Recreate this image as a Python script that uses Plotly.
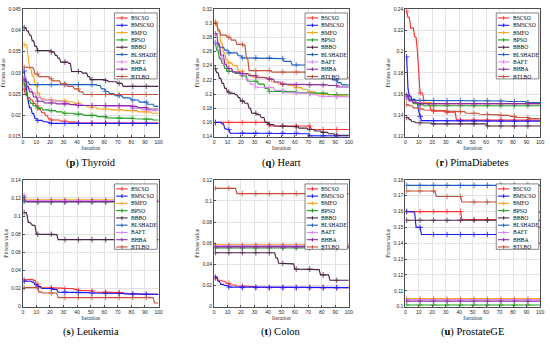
import plotly.graph_objects as go

# ---------------- data ----------------
NAMES = ["BSCSO", "BMSCSO", "BMFO", "BPSO", "BBBO", "BLSHADE", "BAFT", "BHBA", "BTLBO"]
COLORS = ["#FF3030", "#1A1AFF", "#FFA31A", "#1E9E1E", "#4A2545", "#1F5FC0", "#D98CF0", "#8E2C9E", "#C4513A"]
ITER = list(range(1, 101))
X_TICKS = [0, 10, 20, 30, 40, 50, 60, 70, 80, 90, 100]

# convergence curves: (iteration, best fitness) at each visible change
thy_bscso = [(1, 0.0262), (2, 0.0248), (4, 0.0241), (6, 0.0236), (8, 0.0228), (10, 0.0222), (12, 0.0214), (14, 0.0206), (17, 0.0199), (19, 0.0192), (21, 0.0189), (28, 0.0186), (34, 0.0184), (40, 0.0182)]
thy_bmscso = [(1, 0.0304), (2, 0.0275), (3, 0.0252), (4, 0.0232), (5, 0.0218), (7, 0.0204), (9, 0.0192), (11, 0.0188), (15, 0.0185), (19, 0.0183), (21, 0.0181)]
thy_bmfo = [(1, 0.0366), (3, 0.0362), (4, 0.0335), (5, 0.0310), (7, 0.0292), (9, 0.0272), (11, 0.0252), (13, 0.0240), (16, 0.0236), (25, 0.0234), (33, 0.0232), (38, 0.0228), (43, 0.0223), (48, 0.0219), (55, 0.0215), (65, 0.0213), (75, 0.0211), (85, 0.0208), (95, 0.0205)]
thy_bpso = [(1, 0.0275), (2, 0.0262), (3, 0.0246), (4, 0.0235), (6, 0.0228), (8, 0.0222), (11, 0.0217), (15, 0.0213), (20, 0.0211), (25, 0.0208), (30, 0.0205), (38, 0.0203), (45, 0.0200), (55, 0.0197), (62, 0.0194), (72, 0.0193), (82, 0.0192), (90, 0.0191), (96, 0.0189)]
thy_bbbo = [(1, 0.0406), (3, 0.0398), (5, 0.0388), (7, 0.0375), (9, 0.0362), (11, 0.0352), (21, 0.0349), (24, 0.0341), (26, 0.0334), (28, 0.0325), (34, 0.0322), (36, 0.0303), (44, 0.0299), (48, 0.0291), (50, 0.0284), (61, 0.0282), (63, 0.0279), (70, 0.0275), (74, 0.0268)]
thy_blshade = [(1, 0.0285), (3, 0.0278), (5, 0.0272), (55, 0.0270), (58, 0.0262), (61, 0.0256), (64, 0.0251), (68, 0.0246), (74, 0.0241), (80, 0.0236), (86, 0.0231), (92, 0.0226), (97, 0.0221)]
thy_baft = [(1, 0.0290), (2, 0.0275), (4, 0.0262), (7, 0.0252), (10, 0.0242), (14, 0.0236), (22, 0.0233), (30, 0.0229), (35, 0.0225), (45, 0.0223), (60, 0.0221), (80, 0.0217), (88, 0.0213), (95, 0.0211)]
thy_bhba = [(1, 0.0283), (3, 0.0268), (5, 0.0255), (8, 0.0243), (11, 0.0233), (16, 0.0229), (25, 0.0227), (35, 0.0225), (40, 0.0223), (80, 0.0221), (85, 0.0218), (92, 0.0215)]
thy_btlbo = [(1, 0.0313), (8, 0.0310), (9, 0.0297), (12, 0.0291), (20, 0.0286), (22, 0.0281), (28, 0.0274), (33, 0.0268), (38, 0.0262), (42, 0.0255), (45, 0.0249)]
THY_TICKS = [0.015, 0.02, 0.025, 0.03, 0.035, 0.04, 0.045]
THY_LABELS = ["0.015", "0.02", "0.025", "0.03", "0.035", "0.04", "0.045"]

hrt_bscso = [(1, 0.160), (40, 0.157), (42, 0.155), (72, 0.152), (73, 0.150)]
hrt_bmscso = [(1, 0.160), (6, 0.158), (8, 0.151), (11, 0.150), (12, 0.145), (70, 0.144), (71, 0.141)]
hrt_bmfo = [(1, 0.302), (2, 0.298), (3, 0.288), (5, 0.272), (7, 0.258), (9, 0.248), (11, 0.244), (14, 0.240), (18, 0.232), (22, 0.228), (28, 0.224), (38, 0.222), (43, 0.217), (48, 0.214), (55, 0.212), (60, 0.209), (66, 0.206), (70, 0.203), (76, 0.200), (82, 0.199), (90, 0.198), (96, 0.197)]
hrt_bpso = [(1, 0.272), (2, 0.262), (4, 0.250), (6, 0.243), (8, 0.236), (10, 0.232), (16, 0.229), (20, 0.226), (25, 0.218), (33, 0.214), (38, 0.208), (41, 0.204), (58, 0.203), (62, 0.202), (70, 0.201), (85, 0.199)]
hrt_bbbo = [(1, 0.236), (2, 0.230), (4, 0.222), (6, 0.215), (8, 0.208), (10, 0.203), (12, 0.201), (16, 0.199), (18, 0.195), (20, 0.190), (23, 0.187), (26, 0.180), (28, 0.173), (32, 0.171), (35, 0.167), (38, 0.160), (41, 0.157), (45, 0.155), (60, 0.154), (63, 0.152), (70, 0.150), (75, 0.148), (80, 0.146), (85, 0.144), (90, 0.142)]
hrt_blshade = [(1, 0.272), (4, 0.266), (8, 0.262), (11, 0.258), (18, 0.254), (21, 0.251), (50, 0.250), (52, 0.246), (58, 0.241), (68, 0.241), (70, 0.238), (75, 0.232), (82, 0.226), (88, 0.220), (92, 0.216), (95, 0.213)]
hrt_baft = [(1, 0.273), (3, 0.262), (5, 0.252), (7, 0.242), (10, 0.236), (14, 0.231), (20, 0.227), (24, 0.220), (27, 0.214), (31, 0.210), (38, 0.209), (45, 0.205), (52, 0.202), (62, 0.201), (72, 0.199), (78, 0.197), (90, 0.196)]
hrt_bhba = [(1, 0.285), (3, 0.270), (5, 0.255), (8, 0.242), (10, 0.236), (14, 0.231), (20, 0.229), (26, 0.226), (32, 0.223), (40, 0.221), (45, 0.217), (50, 0.214), (60, 0.213), (85, 0.212), (92, 0.210)]
hrt_btlbo = [(1, 0.300), (3, 0.290), (5, 0.283), (10, 0.280), (13, 0.276), (17, 0.270), (22, 0.268), (24, 0.250), (26, 0.233), (41, 0.233), (43, 0.231), (95, 0.231), (97, 0.223)]
HRT_TICKS = [0.14, 0.16, 0.18, 0.2, 0.22, 0.24, 0.26, 0.28, 0.3, 0.32]
HRT_LABELS = ["0.14", "0.16", "0.18", "0.2", "0.22", "0.24", "0.26", "0.28", "0.3", "0.32"]

pim_bscso = [(1, 0.238), (2, 0.232), (4, 0.222), (6, 0.222), (7, 0.214), (8, 0.213), (9, 0.200), (10, 0.180), (11, 0.161), (13, 0.160), (14, 0.152), (17, 0.150), (19, 0.145), (21, 0.144), (30, 0.143), (38, 0.1355)]
pim_bmscso = [(1, 0.195), (2, 0.165), (3, 0.158), (5, 0.155), (8, 0.152), (10, 0.144), (11, 0.139), (12, 0.135), (40, 0.1345)]
pim_bmfo = [(1, 0.155), (4, 0.153), (8, 0.152), (20, 0.151)]
pim_bpso = [(1, 0.157), (3, 0.153), (6, 0.151), (10, 0.150), (14, 0.149)]
pim_bbbo = [(1, 0.138), (3, 0.136), (5, 0.134), (8, 0.133), (12, 0.1328), (20, 0.132), (61, 0.130)]
pim_blshade = [(1, 0.158), (2, 0.156), (4, 0.155), (6, 0.154), (70, 0.1535), (75, 0.153), (90, 0.152)]
pim_baft = [(1, 0.156), (3, 0.153), (6, 0.152), (12, 0.151)]
pim_bhba = [(1, 0.159), (3, 0.154), (6, 0.152), (10, 0.151)]
pim_btlbo = [(1, 0.150), (3, 0.149), (6, 0.147), (10, 0.146), (14, 0.145), (20, 0.1445), (30, 0.144), (38, 0.1435), (45, 0.142), (55, 0.141), (62, 0.1405), (70, 0.140), (78, 0.139), (82, 0.138), (92, 0.137)]
PIM_TICKS = [0.12, 0.14, 0.16, 0.18, 0.2, 0.22, 0.24]
PIM_LABELS = ["0.12", "0.14", "0.16", "0.18", "0.2", "0.22", "0.24"]

leu_bscso = [(1, 0.0295), (3, 0.0300), (8, 0.0290), (10, 0.025), (12, 0.0225), (14, 0.021), (20, 0.0205), (30, 0.0200), (38, 0.019), (41, 0.018), (50, 0.0175), (52, 0.016), (70, 0.0155), (75, 0.0145), (80, 0.014), (88, 0.0135)]
leu_bmscso = [(1, 0.028), (7, 0.027), (9, 0.024), (11, 0.022), (14, 0.020), (22, 0.019), (26, 0.016), (40, 0.0155), (50, 0.015), (60, 0.0145), (75, 0.014), (85, 0.0135)]
leu_bmfo = [(1, 0.118)]
leu_bpso = [(1, 0.117), (3, 0.1155)]
leu_bbbo = [(1, 0.104), (3, 0.102), (4, 0.093), (6, 0.092), (7, 0.090), (8, 0.0895), (10, 0.080), (24, 0.0795), (26, 0.074)]
leu_blshade = [(1, 0.1165)]
leu_baft = [(1, 0.123), (2, 0.117)]
leu_bhba = [(1, 0.121), (2, 0.116)]
leu_btlbo = [(1, 0.021), (10, 0.021), (12, 0.016), (15, 0.015), (24, 0.015), (26, 0.010), (96, 0.010), (97, 0.004)]
LEU_TICKS = [0, 0.02, 0.04, 0.06, 0.08, 0.1, 0.12, 0.14]
LEU_LABELS = ["0", "0.02", "0.04", "0.06", "0.08", "0.1", "0.12", "0.14"]

col_bscso = [(1, 0.027), (3, 0.025), (6, 0.024), (9, 0.022), (12, 0.0205), (17, 0.0195), (22, 0.0190), (30, 0.0185), (35, 0.018)]
col_bmscso = [(1, 0.028), (3, 0.024), (5, 0.021), (8, 0.020), (11, 0.0185), (20, 0.018)]
col_bmfo = [(1, 0.0585)]
col_bpso = [(1, 0.0555)]
col_bbbo = [(1, 0.051), (45, 0.051), (46, 0.046), (48, 0.041), (58, 0.0405), (60, 0.0355), (77, 0.035), (79, 0.030), (84, 0.030), (86, 0.025)]
col_blshade = [(1, 0.057)]
col_baft = [(1, 0.0575)]
col_bhba = [(1, 0.0565)]
col_btlbo = [(1, 0.112), (15, 0.112), (17, 0.107)]
COL_TICKS = [0, 0.02, 0.04, 0.06, 0.08, 0.1, 0.12]
COL_LABELS = ["0", "0.02", "0.04", "0.06", "0.08", "0.1", "0.12"]

pro_bscso = [(1, 0.160), (41, 0.160), (42, 0.155), (96, 0.155), (97, 0.150)]
pro_bmscso = [(1, 0.160), (7, 0.159), (8, 0.150), (11, 0.150), (12, 0.1455), (96, 0.1455), (97, 0.140)]
pro_bmfo = [(1, 0.105)]
pro_bpso = [(1, 0.101)]
pro_bbbo = [(1, 0.1545)]
pro_blshade = [(1, 0.1765)]
pro_baft = [(1, 0.1045)]
pro_bhba = [(1, 0.1035)]
pro_btlbo = [(1, 0.173), (22, 0.173), (23, 0.1695), (41, 0.1695), (42, 0.166), (96, 0.166), (97, 0.1595)]
PRO_TICKS = [0.1, 0.11, 0.12, 0.13, 0.14, 0.15, 0.16, 0.17, 0.18]
PRO_LABELS = ["0.1", "0.11", "0.12", "0.13", "0.14", "0.15", "0.16", "0.17", "0.18"]

PANELS = [
    ("p", "Thyroid", [thy_bscso, thy_bmscso, thy_bmfo, thy_bpso, thy_bbbo, thy_blshade, thy_baft, thy_bhba, thy_btlbo], THY_TICKS, THY_LABELS),
    ("q", "Heart", [hrt_bscso, hrt_bmscso, hrt_bmfo, hrt_bpso, hrt_bbbo, hrt_blshade, hrt_baft, hrt_bhba, hrt_btlbo], HRT_TICKS, HRT_LABELS),
    ("r", "PimaDiabetes", [pim_bscso, pim_bmscso, pim_bmfo, pim_bpso, pim_bbbo, pim_blshade, pim_baft, pim_bhba, pim_btlbo], PIM_TICKS, PIM_LABELS),
    ("s", "Leukemia", [leu_bscso, leu_bmscso, leu_bmfo, leu_bpso, leu_bbbo, leu_blshade, leu_baft, leu_bhba, leu_btlbo], LEU_TICKS, LEU_LABELS),
    ("t", "Colon", [col_bscso, col_bmscso, col_bmfo, col_bpso, col_bbbo, col_blshade, col_baft, col_bhba, col_btlbo], COL_TICKS, COL_LABELS),
    ("u", "ProstateGE", [pro_bscso, pro_bmscso, pro_bmfo, pro_bpso, pro_bbbo, pro_blshade, pro_baft, pro_bhba, pro_btlbo], PRO_TICKS, PRO_LABELS),
]


def hold(points):
    """best-so-far value at every iteration (value kept until next recorded change)"""
    ys, j = [], 0
    for it in ITER:
        while j + 1 < len(points) and points[j + 1][0] <= it:
            j += 1
        ys.append(points[j][1])
    return ys


# ---------------- layout geometry ----------------
W, H = 550, 344
X_DOMAINS = [[22 / W, 159 / W], [215 / W, 351 / W], [408 / W, 544 / W]]
Y_DOMAINS = [[1 - 136 / H, 1 - 6 / H], [1 - 309 / H, 1 - 180 / H]]
CAPTION_Y = [1 - 163 / H, 1 - 335 / H]

SERIF = "Liberation Serif"
SANS = "Liberation Sans"
marker_sizes = [4 if (it - 1) % 10 == 0 else 0 for it in ITER]

fig = go.Figure()
shapes, annotations = [], []
layout = dict(
    width=W, height=H, margin=dict(l=0, r=0, t=0, b=0),
    paper_bgcolor="white", plot_bgcolor="white", showlegend=False,
)

for k, (letter, title, series, yt, yl) in enumerate(PANELS):
    row, col = divmod(k, 3)
    sfx = "" if k == 0 else str(k + 1)
    xa, ya = "x" + sfx, "y" + sfx
    for name, color, pts in zip(NAMES, COLORS, series):
        fig.add_trace(go.Scatter(
            x=ITER, y=hold(pts), name=name, mode="lines+markers",
            xaxis=xa, yaxis=ya,
            line=dict(color=color, width=1.15),
            marker=dict(symbol="cross-thin", size=marker_sizes, color=color,
                        line=dict(color=color, width=1.1)),
            hoverinfo="x+y+name",
        ))
    axis_common = dict(
        showline=True, mirror=True, linecolor="#4d4d4d", linewidth=0.8,
        showgrid=True, gridcolor="#e3e3e3", gridwidth=0.6, zeroline=False,
        ticks="inside", ticklen=2, tickcolor="#4d4d4d", tickwidth=0.6,
        tickfont=dict(family=SANS, size=5, color="#262626"),
    )
    layout["xaxis" + sfx] = dict(
        axis_common, domain=X_DOMAINS[col], anchor=ya, range=[0, 100],
        tickvals=X_TICKS, ticktext=[str(v) for v in X_TICKS],
        title=dict(text="Iteration", font=dict(family=SERIF, size=5.5, color="#262626"), standoff=1),
    )
    layout["yaxis" + sfx] = dict(
        axis_common, domain=Y_DOMAINS[row], anchor=xa, range=[yt[0], yt[-1]],
        tickvals=yt, ticktext=yl,
        title=dict(text="Fitness value", font=dict(family=SERIF, size=5.5, color="#262626"), standoff=2),
    )

    # legend box (drawn inside the axes, top-right like the original)
    xr, yr = xa + " domain", ya + " domain"
    shapes.append(dict(type="rect", xref=xr, yref=yr, x0=0.675, x1=0.99, y0=0.452, y1=0.968,
                       fillcolor="white", line=dict(color="#333333", width=0.6), layer="above"))
    for i, (name, color) in enumerate(zip(NAMES, COLORS)):
        yy = 0.929 - i * 0.0573
        shapes.append(dict(type="line", xref=xr, yref=yr, x0=0.688, x1=0.772, y0=yy, y1=yy,
                           line=dict(color=color, width=1.1), layer="above"))
        shapes.append(dict(type="line", xref=xr, yref=yr, x0=0.73, x1=0.73, y0=yy - 0.014, y1=yy + 0.014,
                           line=dict(color=color, width=1.1), layer="above"))
        annotations.append(dict(xref=xr, yref=yr, x=0.782, y=yy, text=name, showarrow=False,
                                xanchor="left", yanchor="middle",
                                font=dict(family=SERIF, size=5.6, color="black")))
    # caption
    annotations.append(dict(xref="paper", yref="paper",
                            x=(X_DOMAINS[col][0] + X_DOMAINS[col][1]) / 2, y=CAPTION_Y[row],
                            text=f"(<b>{letter}</b>) {title}", showarrow=False,
                            xanchor="center", yanchor="middle",
                            font=dict(family=SERIF, size=10.5, color="black")))

layout["shapes"] = shapes
layout["annotations"] = annotations
fig.update_layout(**layout)
fig.write_html("out.html", config={"displayModeBar": False},
               post_script="document.body.style.margin='0';document.body.style.overflow='hidden';")
